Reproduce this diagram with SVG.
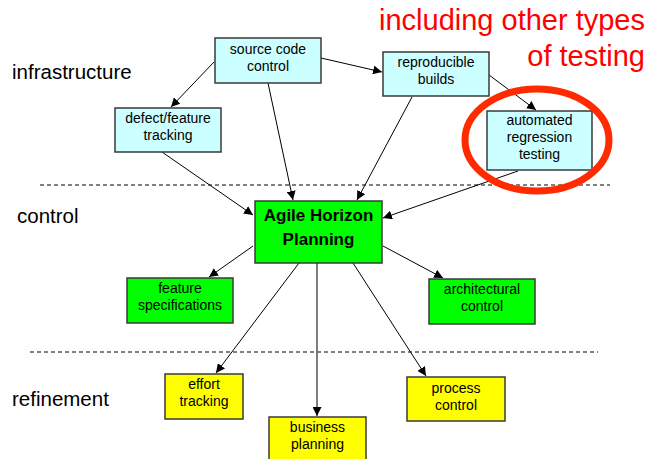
<svg xmlns="http://www.w3.org/2000/svg" width="650" height="459" viewBox="0 0 650 459">
<defs>
<style>
.b rect{stroke:#3a3a3a;stroke-width:1.5}
.c rect{fill:#ccffff}
.g rect{fill:#00ff00}
.y rect{fill:#ffff00}
.b text{font-family:"Liberation Sans",Arial,sans-serif;font-size:14px;fill:#000;text-anchor:middle}
.lbl{font-family:"Liberation Sans",Arial,sans-serif;font-size:20.5px;fill:#000}
.red{font-family:"Liberation Sans",Arial,sans-serif;font-size:29px;fill:#ff0000;text-anchor:end}
.dash{stroke:#000;stroke-width:1;stroke-dasharray:4,3}
.e line{stroke:#000;stroke-width:1;marker-end:url(#ah)}
</style>
<marker id="ah" viewBox="0 0 10 10" refX="10" refY="5" markerWidth="9" markerHeight="9" markerUnits="userSpaceOnUse" orient="auto">
<path d="M0,0 L10,5 L0,10 z" fill="#000"/>
</marker>
</defs>
<rect width="650" height="459" fill="#fff"/>
<text class="red" x="645" y="30">including other types</text>
<text class="red" x="645" y="66">of testing</text>
<text class="lbl" x="12" y="79">infrastructure</text>
<text class="lbl" x="17" y="223">control</text>
<text class="lbl" x="12" y="406">refinement</text>
<line class="dash" x1="40" y1="185" x2="610" y2="185"/>
<line class="dash" x1="30" y1="352" x2="598" y2="352"/>
<g id="connectors" class="e">
<line x1="214" y1="62" x2="171" y2="107"/>
<line x1="321" y1="58" x2="382" y2="72"/>
<line x1="268" y1="83" x2="293" y2="200"/>
<line x1="412" y1="97" x2="357" y2="200"/>
<line x1="489" y1="75" x2="536" y2="110"/>
<line x1="518" y1="171" x2="383" y2="218"/>
<line x1="162" y1="152" x2="253" y2="215"/>
<line x1="253" y1="246" x2="209" y2="277"/>
<line x1="383" y1="246" x2="443" y2="278"/>
<line x1="299" y1="263" x2="216" y2="373"/>
<line x1="317" y1="263" x2="317" y2="416" style="stroke:#555;stroke-width:1.5"/>
<line x1="353" y1="263" x2="426" y2="376"/>
</g>
<g id="source-code-control" class="b c"><rect x="215" y="38" width="106" height="45"/><text x="268" y="54">source code</text><text x="268" y="71">control</text></g>
<g id="defect-feature-tracking" class="b c"><rect x="115" y="108" width="106" height="44"/><text x="168" y="123">defect/feature</text><text x="168" y="140">tracking</text></g>
<g id="reproducible-builds" class="b c"><rect x="383" y="52" width="106" height="44"/><text x="436" y="67">reproducible</text><text x="436" y="84">builds</text></g>
<g id="automated-regression-testing" class="b c"><rect x="487" y="111" width="105" height="59"/><text x="539.5" y="125">automated</text><text x="539.5" y="142">regression</text><text x="539.5" y="159">testing</text></g>
<ellipse id="highlight" cx="537" cy="140" rx="72" ry="51" fill="none" stroke="#ff2a00" stroke-width="7"/>
<g id="agile-horizon-planning" class="b g"><rect x="255" y="201" width="127" height="62"/><text x="318.5" y="221" style="font-weight:bold;font-size:17px">Agile Horizon</text><text x="318.5" y="245" style="font-weight:bold;font-size:17px">Planning</text></g>
<g id="feature-specifications" class="b g"><rect x="127" y="278" width="106" height="45"/><text x="180" y="293">feature</text><text x="180" y="310">specifications</text></g>
<g id="architectural-control" class="b g"><rect x="429" y="279" width="106" height="45"/><text x="482" y="294">architectural</text><text x="482" y="311">control</text></g>
<g id="effort-tracking" class="b y"><rect x="165" y="374" width="78" height="45"/><text x="204" y="389">effort</text><text x="204" y="406">tracking</text></g>
<g id="business-planning" class="b y"><rect x="269" y="417" width="97" height="44"/><text x="317.5" y="432">business</text><text x="317.5" y="449">planning</text></g>
<g id="process-control" class="b y"><rect x="407" y="377" width="98" height="44"/><text x="456" y="393">process</text><text x="456" y="410">control</text></g>
</svg>
